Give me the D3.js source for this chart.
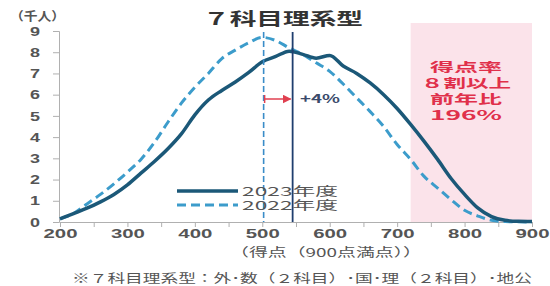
<!DOCTYPE html>
<html lang="ja">
<head>
<meta charset="UTF-8">
<title>7科目理系型</title>
<script src="https://cdnjs.cloudflare.com/ajax/libs/d3/7.8.5/d3.min.js"></script>
<style>
  body { margin: 0; background: #fff; }
  svg { display: block; font-family: "Noto Sans CJK JP", sans-serif; }
  .tick text { fill: #555; font-weight: bold; }
</style>
</head>
<body>
<div id="chart"></div>
<script>
// scores (900点満点) and counts in thousands
const scores = d3.range(200, 901, 20);
const y2023 = [0.15, 0.4, 0.65, 0.95, 1.3, 1.75, 2.3, 2.85, 3.45, 4.15, 5.05, 5.75, 6.2, 6.6, 7.05, 7.55,
               7.8, 8.05, 7.9, 7.72, 7.85, 7.35, 7.0, 6.55, 6.0, 5.35, 4.6, 3.8, 2.95, 2.05, 1.3, 0.65,
               0.25, 0.08, 0.03, 0.02];
const y2022 = [0.15, 0.4, 0.85, 1.3, 1.8, 2.35, 2.95, 3.75, 4.7, 5.6, 6.35, 7.0, 7.7, 8.1, 8.45, 8.7,
               8.55, 8.2, 7.9, 7.5, 7.1, 6.5, 5.85, 5.2, 4.5, 3.65, 2.95, 2.15, 1.6, 1.05, 0.55, 0.28,
               0.08, 0.02, 0.01, 0];
const xTicks = [200, 300, 400, 500, 600, 700, 800, 900];
const yTicks = [0, 1, 2, 3, 4, 5, 6, 7, 8, 9];
const mean2022 = 502, mean2023 = 545;
const highFrom = 720;
const boxLines = ["得点率", "８割以上", "前年比", "196%"];

const width = 550, height = 286;
const svg = d3.select("#chart").append("svg")
    .attr("width", width).attr("height", height);

const x = d3.scaleLinear().domain([200, 900]).range([60, 532]);
const y = d3.scaleLinear().domain([0, 9]).range([222, 31]);

// pink band (score rate >= 80%)
svg.append("rect")
    .attr("x", x(highFrom)).attr("y", 23)
    .attr("width", x(900) - x(highFrom)).attr("height", y(0) - 23)
    .attr("fill", "#fbe3ea");

boxLines.forEach((t, i) => {
    svg.append("text")
        .attr("x", 466).attr("y", 72 + i * 16)
        .attr("text-anchor", "middle")
        .attr("font-size", 12.5).attr("font-weight", "bold")
        .attr("fill", "#e0304a")
        .attr("textLength", i === 1 ? 90 : 72).attr("lengthAdjust", "spacingAndGlyphs")
        .text(t);
});

// axes
const xAxis = svg.append("g").attr("transform", `translate(0,${y(0)})`)
    .call(d3.axisBottom(x).tickValues(d3.range(200, 901, 50)).tickSize(5).tickPadding(2)
        .tickFormat(d => xTicks.includes(d) ? d : ""));
xAxis.selectAll(".tick text").attr("font-size", 13)
    .attr("textLength", d => xTicks.includes(d) ? 34 : null)
    .attr("lengthAdjust", "spacingAndGlyphs");
xAxis.selectAll("line, path").attr("stroke", "#b0b0b0");

const yAxis = svg.append("g").attr("transform", `translate(${x(200) - 1},0)`)
    .call(d3.axisLeft(y).tickValues(yTicks).tickSize(6).tickPadding(18));
yAxis.selectAll("text").attr("font-size", 13).attr("text-anchor", "middle")
    .attr("textLength", 10).attr("lengthAdjust", "spacingAndGlyphs");
yAxis.selectAll("line, path").attr("stroke", "#b0b0b0");

// curves
const line = d3.line().x((d, i) => x(scores[i])).y(d => y(d)).curve(d3.curveMonotoneX);
svg.append("path").datum(y2022)
    .attr("d", line).attr("fill", "none")
    .attr("stroke", "#3c9ccb").attr("stroke-width", 3)
    .attr("stroke-dasharray", "9,5");
svg.append("path").datum(y2023)
    .attr("d", line).attr("fill", "none")
    .attr("stroke", "#1b5878").attr("stroke-width", 3.5);

// mean lines
svg.append("line")
    .attr("x1", x(mean2022)).attr("x2", x(mean2022))
    .attr("y1", 32).attr("y2", y(0))
    .attr("stroke", "#3a8cc8").attr("stroke-width", 1.6).attr("stroke-dasharray", "6,3");
svg.append("line")
    .attr("x1", x(mean2023)).attr("x2", x(mean2023))
    .attr("y1", 32).attr("y2", y(0))
    .attr("stroke", "#1f3e6e").attr("stroke-width", 1.8);

// arrow
svg.append("defs").append("marker")
    .attr("id", "ah").attr("viewBox", "0 0 10 10")
    .attr("refX", 9).attr("refY", 5)
    .attr("markerWidth", 6).attr("markerHeight", 6)
    .attr("orient", "auto")
    .append("path").attr("d", "M0,0 L10,5 L0,10 z").attr("fill", "#e04050");
svg.append("line")
    .attr("x1", x(mean2022) + 1).attr("x2", x(mean2023) - 2)
    .attr("y1", 99).attr("y2", 99)
    .attr("stroke", "#e04050").attr("stroke-width", 1.5)
    .attr("marker-end", "url(#ah)");
svg.append("line")
    .attr("x1", x(mean2022) + 1).attr("x2", x(mean2022) + 1)
    .attr("y1", 95).attr("y2", 103)
    .attr("stroke", "#e04050").attr("stroke-width", 1.5);
svg.append("text")
    .attr("x", 300).attr("y", 103)
    .attr("font-size", 12).attr("font-weight", "bold").attr("fill", "#3a4a6a")
    .attr("textLength", 40).attr("lengthAdjust", "spacingAndGlyphs")
    .text("+4%");

// legend
const legend = [
    { label: "2023年度", color: "#1b5878", dash: null, w: 3.5, y: 191 },
    { label: "2022年度", color: "#3c9ccb", dash: "9,5", w: 3, y: 205 }
];
legend.forEach(l => {
    svg.append("line")
        .attr("x1", 177).attr("x2", 238).attr("y1", l.y).attr("y2", l.y)
        .attr("stroke", l.color).attr("stroke-width", l.w)
        .attr("stroke-dasharray", l.dash);
    svg.append("text")
        .attr("x", 242).attr("y", l.y + 5)
        .attr("font-size", 12).attr("fill", "#555")
        .attr("textLength", 96).attr("lengthAdjust", "spacingAndGlyphs")
        .text(l.label);
});

// titles and notes
svg.append("text")
    .attr("x", 283).attr("y", 25).attr("text-anchor", "middle")
    .attr("font-size", 17).attr("font-weight", "bold").attr("fill", "#333")
    .attr("textLength", 160).attr("lengthAdjust", "spacingAndGlyphs")
    .text("７科目理系型");
svg.append("text")
    .attr("x", 10).attr("y", 21)
    .attr("font-size", 12).attr("fill", "#555").attr("font-weight", "bold")
    .attr("textLength", 55).attr("lengthAdjust", "spacingAndGlyphs")
    .text("（千人）");
svg.append("text")
    .attr("x", 326).attr("y", 257).attr("text-anchor", "middle")
    .attr("font-size", 12).attr("fill", "#555")
    .attr("textLength", 192).attr("lengthAdjust", "spacingAndGlyphs")
    .text("（得点（900点満点））");
svg.append("text")
    .attr("x", 302).attr("y", 283).attr("text-anchor", "middle")
    .attr("font-size", 12).attr("fill", "#555")
    .attr("textLength", 460).attr("lengthAdjust", "spacingAndGlyphs")
    .text("※７科目理系型：外･数（２科目）･国･理（２科目）･地公");
</script>
</body>
</html>
